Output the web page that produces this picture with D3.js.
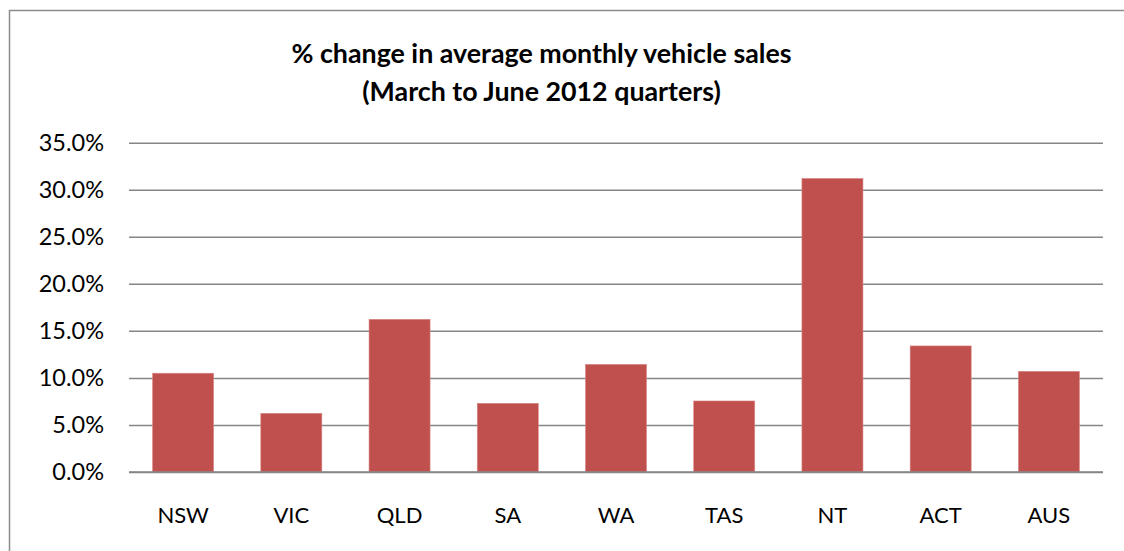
<!DOCTYPE html>
<html>
<head>
<meta charset="utf-8">
<script src="https://cdn.jsdelivr.net/npm/d3@7"></script>
<style>
  html, body { margin: 0; padding: 0; background: #fff; }
  svg { display: block; }
  text { font-family: Lato, "Open Sans", sans-serif; fill: #000; }
</style>
</head>
<body>
<svg id="chart" width="1124" height="551"></svg>
<script>
const categories = ["NSW", "VIC", "QLD", "SA", "WA", "TAS", "NT", "ACT", "AUS"];
const values = [0.105, 0.0624, 0.1623, 0.073, 0.1144, 0.0755, 0.312, 0.134, 0.107];
const yTicks = [0, 0.05, 0.10, 0.15, 0.20, 0.25, 0.30, 0.35];
const titleLines = ["% change in average monthly vehicle sales", "(March to June 2012 quarters)"];

const svg = d3.select("#chart");
const plot = { left: 129, right: 1103, top: 142.7, bottom: 472 };

// outer border (extends beyond the viewport on right/bottom)
svg.append("rect")
  .attr("x", 9.5).attr("y", 10.5)
  .attr("width", 1140).attr("height", 600)
  .attr("fill", "#fff")
  .attr("stroke", "#8c8c8c").attr("stroke-width", 1.5);

const x = d3.scaleBand()
  .domain(categories)
  .range([plot.left, plot.right])
  .paddingInner(0.436)
  .paddingOuter(0.218);

const y = d3.scaleLinear()
  .domain([0, 0.35])
  .range([plot.bottom, plot.top]);

const yAxis = d3.axisLeft(y)
  .tickValues(yTicks)
  .tickFormat(d3.format(".1%"))
  .tickSize(-(plot.right - plot.left))
  .tickPadding(25);

const gy = svg.append("g")
  .attr("transform", `translate(${plot.left},0)`)
  .call(yAxis);
gy.select(".domain").remove();
gy.selectAll(".tick line").attr("stroke", "#868686").attr("stroke-width", 1.5);
gy.selectAll(".tick text")
  .attr("font-size", 23.5)
  .attr("font-family", "Lato, sans-serif")
  .attr("fill", "#000");

svg.append("g").selectAll("rect")
  .data(values)
  .join("rect")
  .attr("x", (d, i) => x(categories[i]))
  .attr("width", x.bandwidth())
  .attr("y", d => y(d))
  .attr("height", d => y(0) - y(d))
  .attr("fill", "#C0504D")
  .attr("stroke", "#d98a88")
  .attr("stroke-width", 0.6);

svg.append("line")
  .attr("x1", plot.left).attr("x2", plot.right)
  .attr("y1", y(0)).attr("y2", y(0))
  .attr("stroke", "#868686").attr("stroke-width", 1.5);

const xAxis = d3.axisBottom(x).tickSize(0).tickPadding(35);
const gx = svg.append("g")
  .attr("transform", `translate(0,${plot.bottom})`)
  .call(xAxis);
gx.select(".domain").remove();
gx.selectAll(".tick text")
  .attr("font-size", 22)
  .attr("font-family", "Lato, sans-serif")
  .attr("fill", "#000");

const title = svg.append("text")
  .attr("text-anchor", "middle")
  .attr("font-size", 26.8)
  .attr("font-weight", "bold");
title.selectAll("tspan")
  .data(titleLines)
  .join("tspan")
  .attr("x", 541.5)
  .attr("y", (d, i) => 63 + i * 38)
  .text(d => d);
</script>
</body>
</html>
